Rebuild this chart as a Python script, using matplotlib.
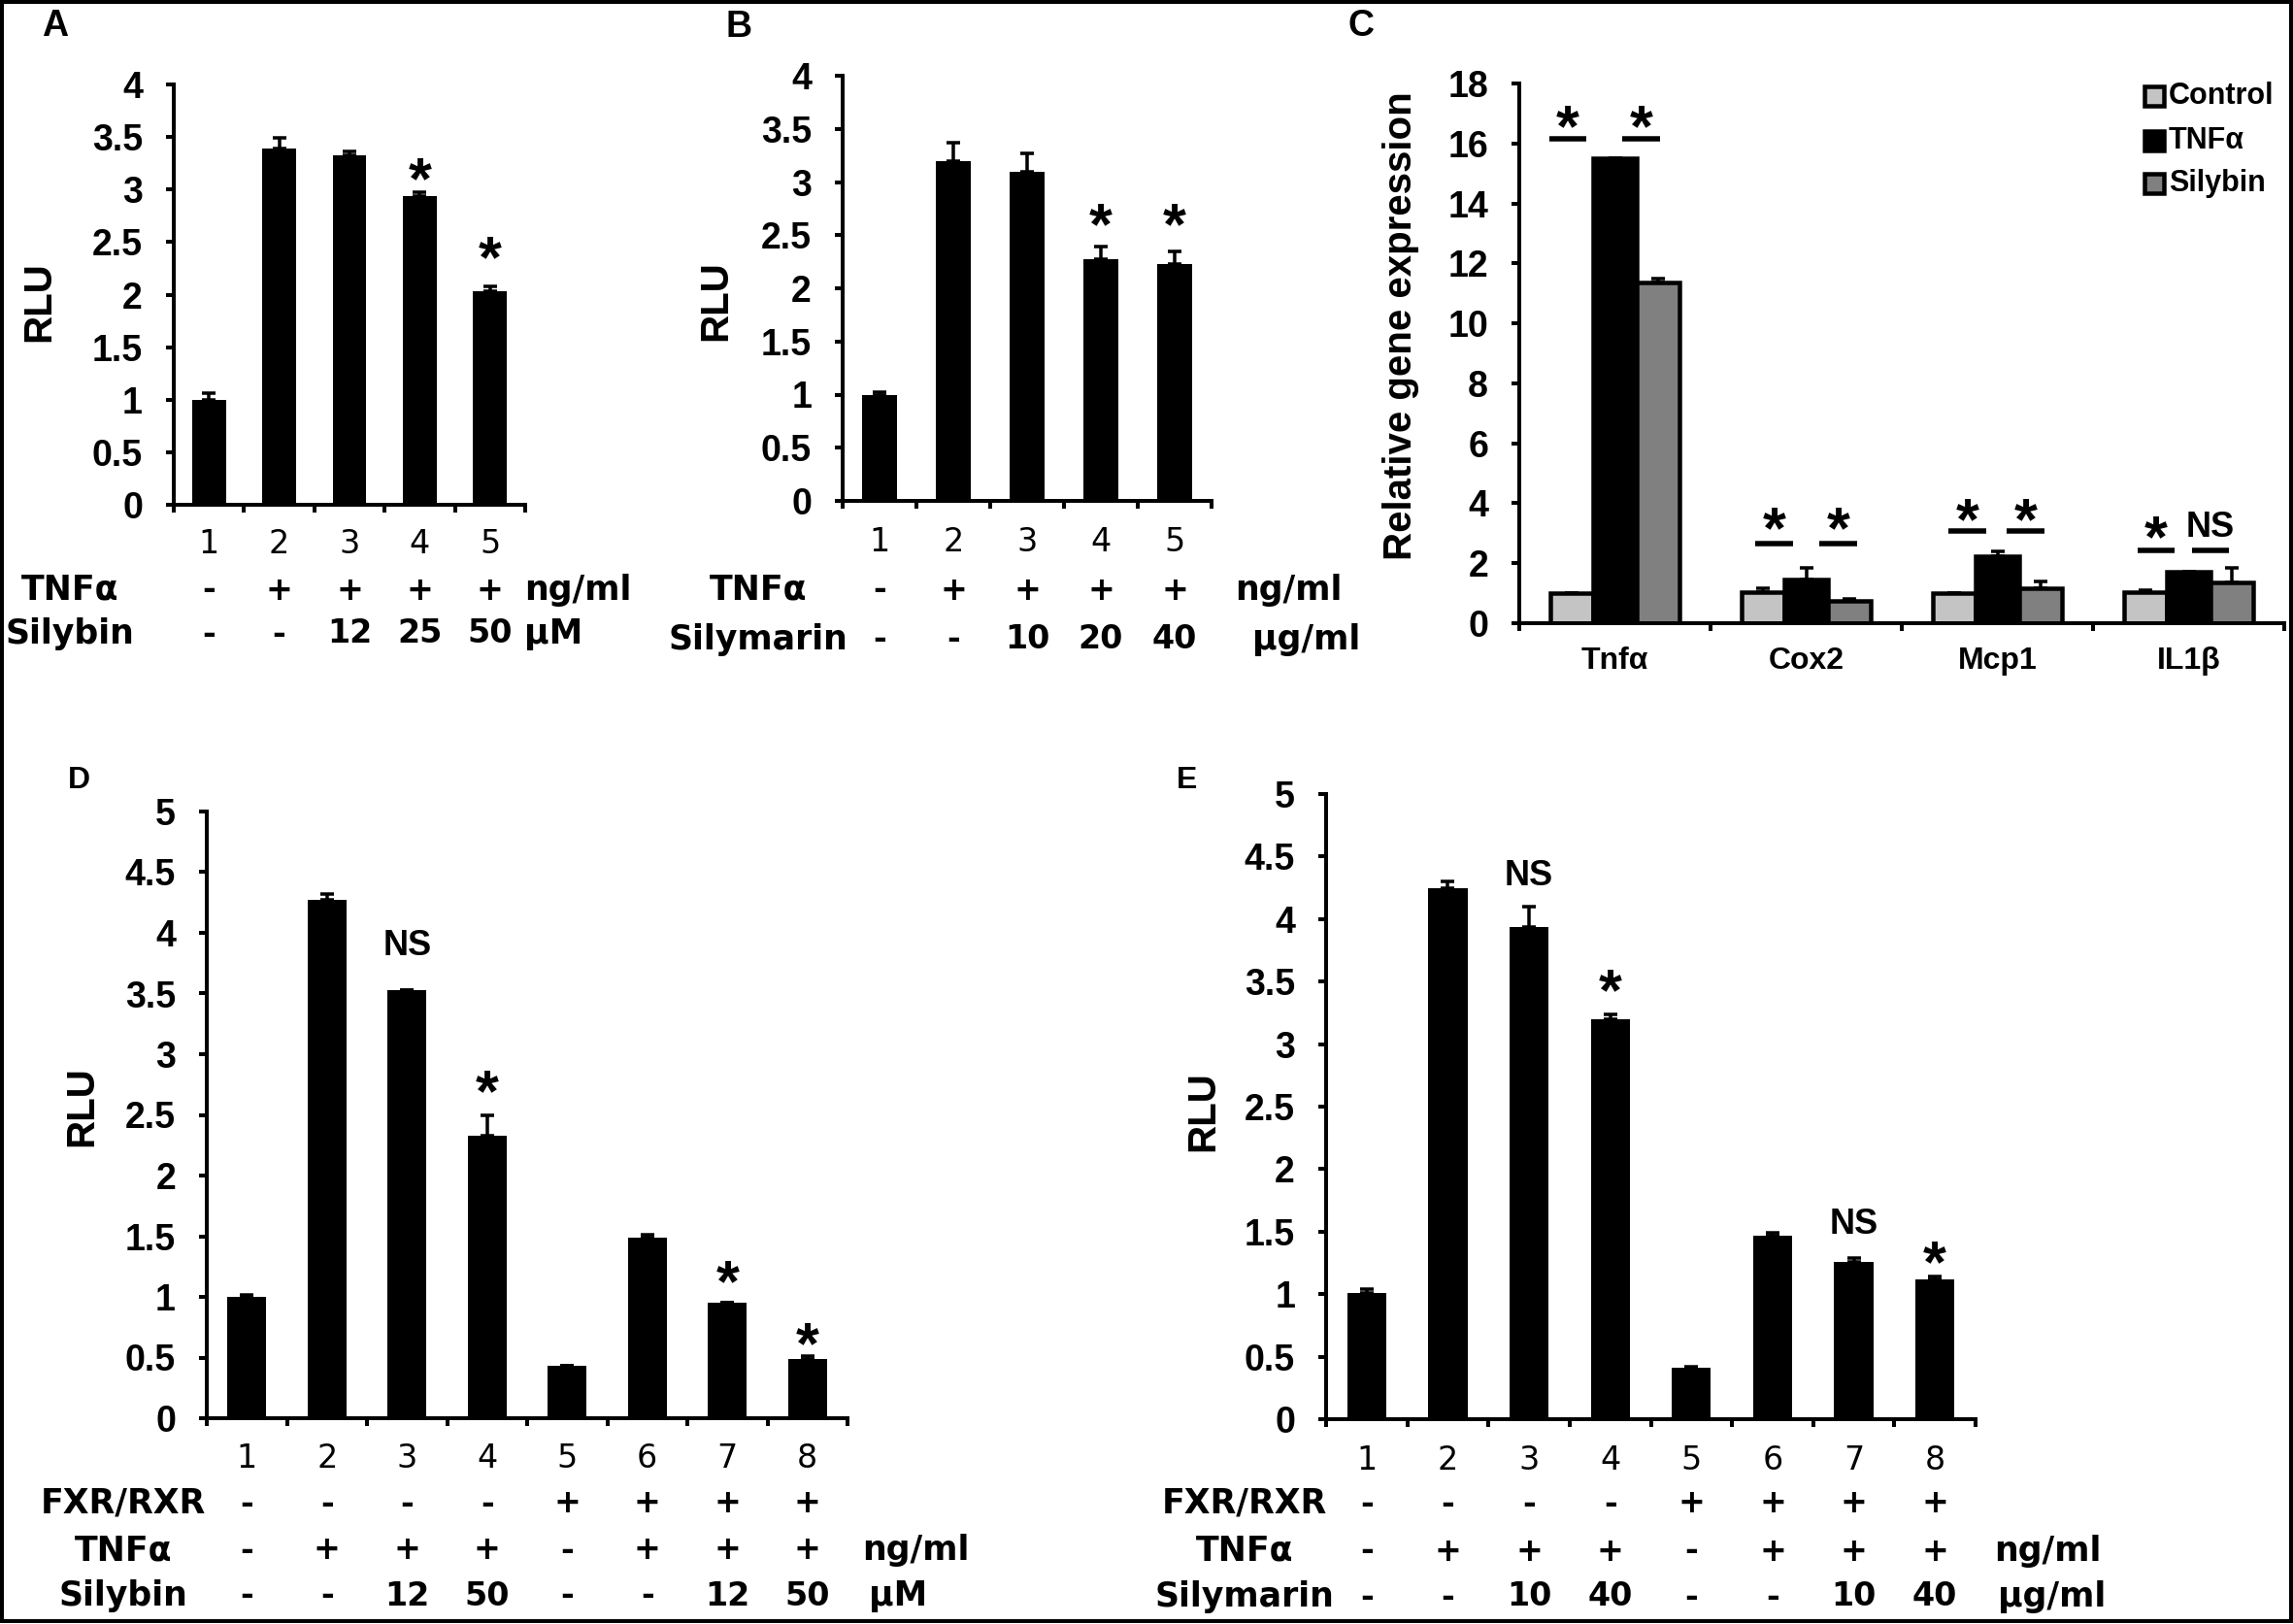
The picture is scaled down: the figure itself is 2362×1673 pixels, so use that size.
import matplotlib
matplotlib.use('Agg')
import matplotlib.pyplot as plt
import numpy as np
from matplotlib.patches import Rectangle
from matplotlib import transforms
from matplotlib.ticker import FuncFormatter

plt.rcParams['font.family'] = ['Liberation Sans', 'DejaVu Sans']

# ---------------- data ----------------
# Panel A
a_lanes = ['1', '2', '3', '4', '5']
a_values = [1.00, 3.39, 3.33, 2.94, 2.03]
a_errors = [0.06, 0.10, 0.03, 0.03, 0.05]
a_tnf = ['-', '+', '+', '+', '+']
a_silybin = ['-', '-', '12', '25', '50']
a_marks = ['', '', '', '*', '*']

# Panel B
b_lanes = ['1', '2', '3', '4', '5']
b_values = [1.00, 3.20, 3.10, 2.27, 2.23]
b_errors = [0.02, 0.17, 0.17, 0.12, 0.12]
b_tnf = ['-', '+', '+', '+', '+']
b_silymarin = ['-', '-', '10', '20', '40']
b_marks = ['', '', '', '*', '*']

# Panel C
c_genes = ['Tnfα', 'Cox2', 'Mcp1', 'IL1β']
c_series = ['Control', 'TNFα', 'Silybin']
c_control = [1.00, 1.02, 1.00, 1.02]
c_control_err = [0.00, 0.15, 0.00, 0.09]
c_tnf = [15.50, 1.45, 2.25, 1.72]
c_tnf_err = [0.00, 0.40, 0.13, 0.00]
c_silybin = [11.35, 0.74, 1.15, 1.36]
c_silybin_err = [0.15, 0.07, 0.25, 0.47]
c_marks_left = ['*', '*', '*', '*']
c_marks_right = ['*', '*', '*', 'NS']

# Panel D
d_lanes = ['1', '2', '3', '4', '5', '6', '7', '8']
d_values = [1.00, 4.27, 3.53, 2.33, 0.43, 1.49, 0.95, 0.49]
d_errors = [0.02, 0.05, 0.00, 0.17, 0.00, 0.02, 0.00, 0.02]
d_fxr = ['-', '-', '-', '-', '+', '+', '+', '+']
d_tnf = ['-', '+', '+', '+', '-', '+', '+', '+']
d_silybin = ['-', '-', '12', '50', '-', '-', '12', '50']
d_marks = ['', '', 'NS', '*', '', '', '*', '*']

# Panel E
e_lanes = ['1', '2', '3', '4', '5', '6', '7', '8']
e_values = [1.01, 4.25, 3.94, 3.20, 0.41, 1.47, 1.26, 1.12]
e_errors = [0.03, 0.05, 0.16, 0.04, 0.01, 0.02, 0.03, 0.02]
e_fxr = ['-', '-', '-', '-', '+', '+', '+', '+']
e_tnf = ['-', '+', '+', '+', '-', '+', '+', '+']
e_silymarin = ['-', '-', '10', '40', '-', '-', '10', '40']
e_marks = ['', '', 'NS', '*', '', '', 'NS', '*']

# ---------------- layout helpers ----------------
W, H = 2362, 1673
DPI = 100
PT = 72.0 / DPI  # points per pixel

fig = plt.figure(figsize=(W / DPI, H / DPI), dpi=DPI)
fig.patch.set_facecolor('white')


def fx(x):
    return x / W


def fy(y):
    return 1 - y / H


def add_ax(left, right, top, bottom):
    return fig.add_axes([left / W, 1 - bottom / H, (right - left) / W, (bottom - top) / H])


SPINE = 4 * PT
TICK_FS = 27
BOLD = dict(fontweight='bold')
DJ = ['DejaVu Sans']


def style_axes(ax, n, ymax, ystep):
    for s in ['top', 'right']:
        ax.spines[s].set_visible(False)
    for s in ['left', 'bottom']:
        ax.spines[s].set_linewidth(SPINE)
        ax.spines[s].set_color('black')
    ax.set_xlim(-0.5, n - 0.5)
    ax.set_ylim(0, ymax)
    ax.set_xticks(np.arange(n + 1) - 0.5)
    ax.set_xticklabels([])
    ax.set_yticks(np.arange(0, ymax + 1e-9, ystep))
    ax.yaxis.set_major_formatter(FuncFormatter(lambda v, p: '%g' % v))
    ax.tick_params(axis='both', direction='out', length=8 * PT, width=SPINE, color='black')
    ax.tick_params(axis='y', labelsize=TICK_FS, pad=24 * PT)
    for lab in ax.get_yticklabels():
        lab.set_fontweight('bold')
    ax.set_facecolor('none')


def mark(ax, x, y, s):
    if not s:
        return
    if s == '*':
        fs, off = 44, -0.29 * 44
    else:
        fs, off = 26, -0.09 * 26
    ax.annotate(s, (x, y), xytext=(0, off), textcoords='offset points', ha='center',
                va='center', fontsize=fs, fontweight='bold', annotation_clip=False)


def rlu_panel(box, values, errors, ymax, ystep):
    ax = add_ax(*box)
    n = len(values)
    x = np.arange(n)
    ax.bar(x, values, width=0.48, color='black', zorder=2)
    ax.errorbar(x, values, yerr=[np.zeros(n), errors], fmt='none', ecolor='black',
                elinewidth=3.5 * PT, capsize=7 * PT, capthick=3.5 * PT, zorder=3)
    style_axes(ax, n, ymax, ystep)
    return ax


def table(ax, lanes, lane_y, rows, label_cx):
    trans = transforms.blended_transform_factory(ax.transData, fig.transFigure)
    x = np.arange(len(lanes))
    for xi, lab in zip(x, lanes):
        ax.text(xi, fy(lane_y), lab, transform=trans, ha='center', va='center',
                fontsize=24, family=DJ)
    for (name, vals, unit, ux, y) in rows:
        fig.text(fx(label_cx), fy(y), name, ha='center', va='center', fontsize=25,
                 family=DJ, fontweight='bold')
        for xi, v in zip(x, vals):
            ax.text(xi, fy(y), v, transform=trans, ha='center', va='center',
                    fontsize=24, family=DJ, fontweight='bold')
        if unit:
            fig.text(fx(ux), fy(y), unit, ha='left', va='center', fontsize=25,
                     family=DJ, fontweight='bold')


# ---------------- Panel A ----------------
axA = rlu_panel((179, 541, 87, 520), a_values, a_errors, 4, 0.5)
a_mark_y = [0, 0, 0, 3.22, 2.48]
for i, s in enumerate(a_marks):
    mark(axA, i, a_mark_y[i], s)
fig.text(fx(40), fy(311), 'RLU', rotation=90, ha='center', va='center', fontsize=29, **BOLD)
table(axA, a_lanes, 560,
      [('TNFα', a_tnf, 'ng/ml', 540, 608), ('Silybin', a_silybin, 'μM', 540, 653)],
      72)
fig.text(fx(57), fy(27), 'A', ha='center', va='center', fontsize=27, **BOLD)

# ---------------- Panel B ----------------
axB = rlu_panel((868, 1248, 78, 516), b_values, b_errors, 4, 0.5)
b_mark_y = [0, 0, 0, 2.72, 2.72]
for i, s in enumerate(b_marks):
    mark(axB, i, b_mark_y[i], s)
fig.text(fx(737), fy(310), 'RLU', rotation=90, ha='center', va='center', fontsize=29, **BOLD)
table(axB, b_lanes, 558,
      [('TNFα', b_tnf, 'ng/ml', 1272, 608), ('Silymarin', b_silymarin, 'μg/ml', 1290, 659)],
      781)
fig.text(fx(761), fy(28), 'B', ha='center', va='center', fontsize=27, **BOLD)

# ---------------- Panel C ----------------
axC = add_ax(1565, 2353, 86, 642)
xg = np.arange(len(c_genes))
bw = 0.225
c_colors = ['#c4c4c4', 'black', '#808080']
for off, vals, errs, col in zip([-bw, 0, bw], [c_control, c_tnf, c_silybin],
                                [c_control_err, c_tnf_err, c_silybin_err], c_colors):
    axC.bar(xg + off, vals, width=bw, color=col, edgecolor='black', linewidth=4.5 * PT, zorder=2)
    axC.errorbar(xg + off, vals, yerr=[np.zeros(len(vals)), errs], fmt='none', ecolor='black',
                 elinewidth=3.5 * PT, capsize=7 * PT, capthick=3.5 * PT, zorder=3)
style_axes(axC, 4, 18, 2)
transC = transforms.blended_transform_factory(axC.transData, fig.transFigure)
for xi, g in zip(xg, c_genes):
    axC.text(xi, fy(681), g, transform=transC, ha='center', va='center', fontsize=23, **BOLD)
# significance bars
sig_y = [16.15, 2.65, 3.07, 2.43]
sig_left = [-0.246, -0.167, -0.157, -0.17]
sig_right = [0.138, 0.167, 0.148, 0.115]
mark_y = [17.0, 3.6, 3.9, 3.3]
seg = 0.195
for i in range(4):
    for off, s in ((sig_left[i], c_marks_left[i]), (sig_right[i], c_marks_right[i])):
        xc = i + off
        axC.plot([xc - seg / 2, xc + seg / 2], [sig_y[i], sig_y[i]], color='black',
                 lw=5.5 * PT, solid_capstyle='butt', zorder=4, clip_on=False)
        mark(axC, xc, mark_y[i], s)
fig.text(fx(1443), fy(336), 'Relative gene expression', rotation=90, ha='center',
         va='center', fontsize=29, **BOLD)
# legend
for name, col, y in zip(c_series, c_colors, [99, 145, 189]):
    fig.add_artist(Rectangle((fx(2209), fy(y + 10)), 20 / W, 20 / H, transform=fig.transFigure,
                             facecolor=col, edgecolor='black', linewidth=4.5 * PT))
    fig.text(fx(2234), fy(y), name, ha='left', va='center', fontsize=22, **BOLD)
fig.text(fx(1402), fy(27), 'C', ha='center', va='center', fontsize=27, **BOLD)

# ---------------- Panel D ----------------
axD = rlu_panel((213, 873, 836, 1461), d_values, d_errors, 5, 0.5)
d_mark_y = [0, 0, 3.92, 2.80, 0, 0, 1.23, 0.72]
for i, s in enumerate(d_marks):
    mark(axD, i, d_mark_y[i], s)
fig.text(fx(84), fy(1140), 'RLU', rotation=90, ha='center', va='center', fontsize=29, **BOLD)
table(axD, d_lanes, 1502,
      [('FXR/RXR', d_fxr, '', 0, 1549), ('TNFα', d_tnf, 'ng/ml', 888, 1597),
       ('Silybin', d_silybin, 'μM', 895, 1644)],
      127)
fig.text(fx(81), fy(804), 'D', ha='center', va='center', fontsize=23, **BOLD)

# ---------------- Panel E ----------------
axE = rlu_panel((1366, 2035, 818, 1462), e_values, e_errors, 5, 0.5)
e_mark_y = [0, 0, 4.37, 3.53, 0, 0, 1.58, 1.36]
for i, s in enumerate(e_marks):
    mark(axE, i, e_mark_y[i], s)
fig.text(fx(1239), fy(1145), 'RLU', rotation=90, ha='center', va='center', fontsize=29, **BOLD)
table(axE, e_lanes, 1504,
      [('FXR/RXR', e_fxr, '', 0, 1549), ('TNFα', e_tnf, 'ng/ml', 2054, 1598),
       ('Silymarin', e_silymarin, 'μg/ml', 2058, 1645)],
      1282)
fig.text(fx(1223), fy(804), 'E', ha='center', va='center', fontsize=23, **BOLD)

# outer frame
fig.add_artist(Rectangle((fx(2), fy(1670)), 2358 / W, 1668 / H, transform=fig.transFigure,
                         fill=False, edgecolor='black', linewidth=4 * PT))

fig.savefig('out.png', dpi=DPI, facecolor='white')
